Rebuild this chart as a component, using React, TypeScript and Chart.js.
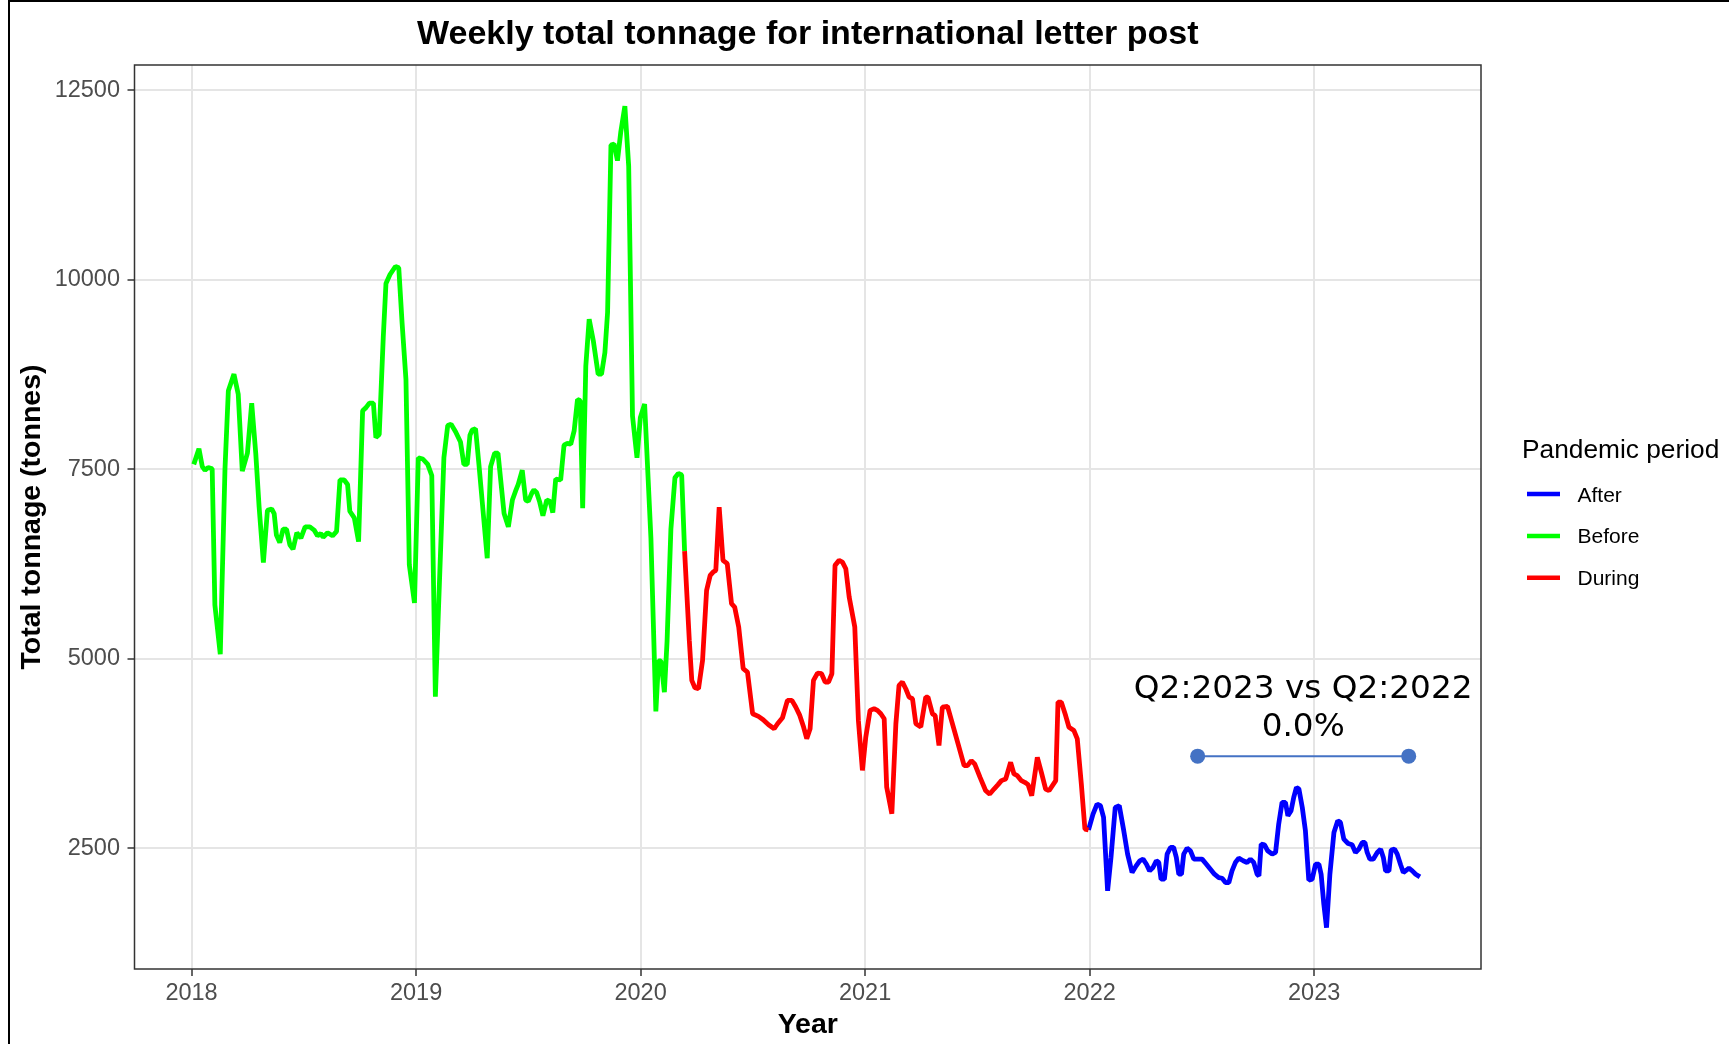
import React, { useEffect, useRef } from 'react';
import { Chart, registerables } from 'chart.js';

Chart.register(...registerables);

// ---- data (decimal year, tonnes) ----
const beforeYear = [
  2018.010, 2018.033, 2018.048, 2018.060, 2018.074, 2018.092, 2018.104, 2018.128, 2018.149, 2018.164,
  2018.189, 2018.208, 2018.226, 2018.249, 2018.268, 2018.286, 2018.301, 2018.320, 2018.338, 2018.357,
  2018.368, 2018.378, 2018.393, 2018.408, 2018.423, 2018.438, 2018.452, 2018.469, 2018.487, 2018.506,
  2018.527, 2018.546, 2018.561, 2018.576, 2018.586, 2018.606, 2018.628, 2018.646, 2018.661, 2018.680,
  2018.695, 2018.705, 2018.725, 2018.744, 2018.762, 2018.777, 2018.792, 2018.810, 2018.821, 2018.836,
  2018.854, 2018.866, 2018.884, 2018.908, 2018.923, 2018.938, 2018.955, 2018.970, 2018.993, 2019.010,
  2019.030, 2019.052, 2019.070, 2019.086, 2019.124, 2019.141, 2019.156, 2019.176, 2019.198, 2019.213,
  2019.228, 2019.240, 2019.250, 2019.265, 2019.280, 2019.295, 2019.317, 2019.332, 2019.350, 2019.365,
  2019.377, 2019.392, 2019.411, 2019.429, 2019.443, 2019.455, 2019.473, 2019.488, 2019.500, 2019.515,
  2019.525, 2019.537, 2019.551, 2019.565, 2019.582, 2019.597, 2019.609, 2019.622, 2019.644, 2019.659,
  2019.674, 2019.689, 2019.704, 2019.719, 2019.731, 2019.742, 2019.756, 2019.771, 2019.790, 2019.811,
  2019.826, 2019.841, 2019.853, 2019.868, 2019.882, 2019.897, 2019.912, 2019.930, 2019.947, 2019.964,
  2019.984, 2019.999, 2020.018, 2020.046, 2020.068, 2020.080, 2020.091, 2020.106, 2020.118, 2020.135,
  2020.153, 2020.168, 2020.183, 2020.196,
];
const beforeTonnes = [
  7565, 7771, 7535, 7488, 7524, 7506, 5708, 5059, 7506, 8538,
  8756, 8491, 7477, 7713, 8373, 7713, 7005, 6268, 6958, 6976,
  6916, 6633, 6533, 6710, 6710, 6504, 6445, 6663, 6592, 6740,
  6740, 6698, 6622, 6651, 6604, 6663, 6622, 6681, 7359, 7359,
  7300, 6946, 6858, 6545, 8273, 8314, 8373, 8373, 7919, 7960,
  9245, 9953, 10071, 10177, 10159, 9422, 8685, 6238, 5737, 7653,
  7636, 7565, 7418, 4499, 7653, 8078, 8096, 7995, 7860, 7565,
  7565, 7949, 8019, 8037, 7565, 7064, 6327, 7535, 7713, 7713,
  7359, 6916, 6740, 7094, 7211, 7300, 7488, 7094, 7076, 7182,
  7229, 7194, 7064, 6887, 7094, 7076, 6928, 7371, 7359, 7819,
  7843, 7831, 8007, 8420, 8408, 6987, 8862, 9481, 9186, 8756,
  8756, 9039, 9570, 11781, 11793, 11574, 11958, 12294, 11500, 8202,
  7653, 8184, 8361, 6592, 4305, 4971, 4971, 4558, 5236, 6710,
  7388, 7447, 7425, 6420,
];

const duringYear = [
  2020.196, 2020.217, 2020.228, 2020.242, 2020.258, 2020.276, 2020.294, 2020.310, 2020.323, 2020.335,
  2020.350, 2020.367, 2020.386, 2020.405, 2020.419, 2020.437, 2020.457, 2020.476, 2020.499, 2020.525,
  2020.546, 2020.570, 2020.595, 2020.610, 2020.632, 2020.654, 2020.674, 2020.691, 2020.709, 2020.726,
  2020.740, 2020.755, 2020.770, 2020.788, 2020.806, 2020.822, 2020.837, 2020.852, 2020.866, 2020.884,
  2020.899, 2020.914, 2020.929, 2020.954, 2020.970, 2020.988, 2021.003, 2021.022, 2021.040, 2021.055,
  2021.070, 2021.085, 2021.096, 2021.119, 2021.137, 2021.151, 2021.166, 2021.181, 2021.196, 2021.211,
  2021.226, 2021.248, 2021.270, 2021.280, 2021.300, 2021.312, 2021.329, 2021.344, 2021.367, 2021.389,
  2021.414, 2021.441, 2021.456, 2021.473, 2021.488, 2021.512, 2021.537, 2021.555, 2021.574, 2021.592,
  2021.607, 2021.626, 2021.637, 2021.648, 2021.663, 2021.678, 2021.696, 2021.711, 2021.726, 2021.742,
  2021.767, 2021.785, 2021.804, 2021.819, 2021.849, 2021.859, 2021.874, 2021.893, 2021.908, 2021.930,
  2021.945, 2021.963, 2021.979, 2021.995,
];
const duringTonnes = [
  6420, 5242, 4714, 4617, 4604, 4978, 5902, 6100, 6144, 6166,
  7000, 6298, 6254, 5726, 5682, 5418, 4868, 4824, 4274, 4239,
  4195, 4129, 4076, 4142, 4221, 4450, 4450, 4362, 4252, 4098,
  3944, 4076, 4714, 4811, 4802, 4692, 4692, 4802, 6232, 6298,
  6276, 6188, 5814, 5418, 4186, 3526, 3966, 4318, 4340, 4318,
  4274, 4208, 3306, 2954, 4142, 4648, 4692, 4604, 4494, 4472,
  4142, 4100, 4493, 4493, 4272, 4250, 3854, 4361, 4370, 4140,
  3876, 3589, 3589, 3655, 3611, 3435, 3258, 3214, 3280, 3338,
  3391, 3413, 3523, 3633, 3479, 3457, 3391, 3369, 3338, 3192,
  3699, 3501, 3280, 3258, 3391, 4427, 4427, 4250, 4096, 4052,
  3942, 3347, 2751, 2740,
];

const afterYear = [
  2021.995, 2022.015, 2022.033, 2022.048, 2022.062, 2022.080, 2022.095, 2022.114, 2022.132, 2022.152,
  2022.169, 2022.189, 2022.207, 2022.223, 2022.238, 2022.253, 2022.267, 2022.282, 2022.297, 2022.308,
  2022.318, 2022.333, 2022.345, 2022.360, 2022.374, 2022.386, 2022.397, 2022.409, 2022.419, 2022.434,
  2022.449, 2022.464, 2022.483, 2022.501, 2022.520, 2022.538, 2022.556, 2022.575, 2022.590, 2022.605,
  2022.620, 2022.634, 2022.649, 2022.664, 2022.684, 2022.701, 2022.716, 2022.731, 2022.746, 2022.754,
  2022.764, 2022.779, 2022.793, 2022.813, 2022.828, 2022.842, 2022.857, 2022.872, 2022.883, 2022.897,
  2022.909, 2022.921, 2022.932, 2022.947, 2022.961, 2022.976, 2022.991, 2023.006, 2023.021, 2023.031,
  2023.043, 2023.055, 2023.070, 2023.088, 2023.105, 2023.117, 2023.132, 2023.151, 2023.169, 2023.184,
  2023.199, 2023.214, 2023.226, 2023.236, 2023.248, 2023.263, 2023.281, 2023.296, 2023.308, 2023.318,
  2023.333, 2023.343, 2023.358, 2023.370, 2023.385, 2023.397, 2023.407, 2023.422, 2023.437, 2023.452,
  2023.471,
];
const afterTonnes = [
  2740, 2950, 3082, 3060, 2906, 1936, 2377, 3038, 3060, 2729,
  2421, 2178, 2266, 2333, 2355, 2288, 2200, 2244, 2333, 2310,
  2090, 2090, 2421, 2509, 2509, 2377, 2156, 2156, 2421, 2500,
  2465, 2355, 2355, 2355, 2288, 2222, 2156, 2112, 2103, 2046,
  2046, 2200, 2310, 2368, 2333, 2310, 2355, 2310, 2156, 2134,
  2553, 2544, 2465, 2421, 2443, 2818, 3104, 3104, 2928, 2994,
  3170, 3302, 3280, 3038, 2729, 2077, 2090, 2288, 2288, 2156,
  1760, 1451, 2156, 2707, 2862, 2840, 2619, 2562, 2544, 2443,
  2487, 2575, 2575, 2443, 2355, 2355, 2443, 2487, 2377, 2200,
  2200, 2474, 2487, 2421, 2280, 2178, 2200, 2235, 2200, 2156,
  2121,
];

const yearTicks = [2018, 2019, 2020, 2021, 2022, 2023];
const tonnageTicks = [2500, 5000, 7500, 10000, 12500];

const legendNames = ['After', 'Before', 'During'];
const legendColors = ['#0000FF', '#00FF00', '#FF0000'];

const comparisonYears = [2022.481, 2023.421];
const comparisonTonnes = [3714, 3714];
const comparisonLines = ['Q2:2023 vs Q2:2022', '0.0%'];

const chartTitle = 'Weekly total tonnage for international letter post';
const xTitle = 'Year';
const yTitle = 'Total tonnage (tonnes)';
const legendTitle = 'Pandemic period';

const X_MIN = 2017.746;
const X_MAX = 2023.743;
const Y_MIN = 905;
const Y_MAX = 12836;

const SANS = '"Liberation Sans", Arial, Helvetica, sans-serif';
const LINE_W = 4.8;

const pts = (xs: number[], ys: number[]) => xs.map((x, i) => ({ x, y: ys[i] }));

const decorPlugin = {
  id: 'decor',
  beforeDraw(chart: any) {
    const { ctx, width, height } = chart;
    ctx.save();
    ctx.fillStyle = '#FFFFFF';
    ctx.fillRect(0, 0, width, height);
    ctx.restore();
  },
  afterDraw(chart: any) {
    const { ctx, chartArea: a, scales } = chart;
    const cx = (a.left + a.right) / 2;
    ctx.save();

    // panel border
    ctx.strokeStyle = '#333333';
    ctx.lineWidth = 1.5;
    ctx.strokeRect(a.left, a.top, a.right - a.left, a.bottom - a.top);

    // title
    ctx.fillStyle = '#000000';
    ctx.textAlign = 'center';
    ctx.textBaseline = 'alphabetic';
    ctx.font = `bold 34px ${SANS}`;
    ctx.fillText(chartTitle, cx, 44);

    // axis titles
    ctx.font = `bold 28.5px ${SANS}`;
    ctx.fillText(xTitle, cx, 1033);
    ctx.save();
    ctx.translate(40, (a.top + a.bottom) / 2);
    ctx.rotate(-Math.PI / 2);
    ctx.fillText(yTitle, 0, 0);
    ctx.restore();

    // legend
    ctx.textAlign = 'left';
    ctx.font = `26.3px ${SANS}`;
    ctx.fillText(legendTitle, 1522, 458);
    ctx.font = `21px ${SANS}`;
    legendNames.forEach((name, i) => {
      const yc = 494 + i * 41.9;
      ctx.strokeStyle = legendColors[i];
      ctx.lineWidth = 4.5;
      ctx.beginPath();
      ctx.moveTo(1527, yc);
      ctx.lineTo(1560, yc);
      ctx.stroke();
      ctx.fillStyle = '#000000';
      ctx.fillText(name, 1577.5, yc + 7.5);
    });

    // comparison annotation text
    const xs = scales.x;
    const ys = scales.y;
    const ax = (xs.getPixelForValue(comparisonYears[0]) + xs.getPixelForValue(comparisonYears[1])) / 2;
    const ay = ys.getPixelForValue(comparisonTonnes[0]);
    ctx.textAlign = 'center';
    ctx.fillStyle = '#000000';
    ctx.font = '32.7px "DejaVu Sans", Verdana, sans-serif';
    ctx.fillText(comparisonLines[0], ax, ay - 57.7);
    ctx.fillText(comparisonLines[1], ax, ay - 20);

    // outer image border (left and top)
    ctx.strokeStyle = '#000000';
    ctx.lineWidth = 2;
    ctx.beginPath();
    ctx.moveTo(9, 1044);
    ctx.lineTo(9, 1);
    ctx.lineTo(1729, 1);
    ctx.stroke();

    ctx.restore();
  },
};

export default function App() {
  const canvasRef = useRef<HTMLCanvasElement | null>(null);

  useEffect(() => {
    const canvas = canvasRef.current;
    if (!canvas) return;
    const chart = new Chart(canvas, {
      type: 'line',
      data: {
        datasets: [
          {
            label: 'comparison',
            data: pts(comparisonYears, comparisonTonnes),
            borderColor: '#4472C4',
            backgroundColor: '#4472C4',
            borderWidth: 2,
            pointRadius: 7.5,
            pointBorderWidth: 0,
            pointBackgroundColor: '#4472C4',
            order: -1,
          },
          {
            label: 'During',
            data: pts(duringYear, duringTonnes),
            borderColor: '#FF0000',
            borderWidth: LINE_W,
            pointRadius: 0,
            tension: 0,
            order: 0,
          },
          {
            label: 'Before',
            data: pts(beforeYear, beforeTonnes),
            borderColor: '#00FF00',
            borderWidth: LINE_W,
            pointRadius: 0,
            tension: 0,
            order: 1,
          },
          {
            label: 'After',
            data: pts(afterYear, afterTonnes),
            borderColor: '#0000FF',
            borderWidth: LINE_W,
            pointRadius: 0,
            tension: 0,
            order: 2,
          },
        ],
      },
      options: {
        responsive: false,
        animation: false,
        devicePixelRatio: 1,
        layout: { padding: { top: 65, right: 248, bottom: 0, left: 0 } },
        elements: { line: { borderJoinStyle: 'bevel', borderCapStyle: 'butt' } },
        plugins: {
          legend: { display: false },
          title: { display: false },
          tooltip: { enabled: false },
        },
        scales: {
          x: {
            type: 'linear',
            min: X_MIN,
            max: X_MAX,
            afterBuildTicks: (s: any) => {
              s.ticks = yearTicks.map((v) => ({ value: v }));
            },
            afterFit: (s: any) => {
              s.height = 75;
            },
            ticks: {
              callback: (v: any) => String(v),
              font: { family: SANS, size: 23.5 },
              color: '#4D4D4D',
              padding: 3,
              maxRotation: 0,
              autoSkip: false,
            },
            grid: {
              color: '#E5E5E5',
              lineWidth: 2,
              drawTicks: true,
              tickLength: 7,
              tickColor: '#333333',
              tickWidth: 1.5,
            },
            border: { display: false },
          },
          y: {
            type: 'linear',
            min: Y_MIN,
            max: Y_MAX,
            afterBuildTicks: (s: any) => {
              s.ticks = tonnageTicks.map((v) => ({ value: v }));
            },
            afterFit: (s: any) => {
              s.width = 134.5;
            },
            ticks: {
              callback: (v: any) => String(v),
              font: { family: SANS, size: 23.5 },
              color: '#4D4D4D',
              padding: 7.5,
              autoSkip: false,
            },
            grid: {
              color: '#E5E5E5',
              lineWidth: 2,
              drawTicks: true,
              tickLength: 7,
              tickColor: '#333333',
              tickWidth: 1.5,
            },
            border: { display: false },
          },
        },
      },
      plugins: [decorPlugin],
    } as any);
    return () => chart.destroy();
  }, []);

  return (
    <div style={{ position: 'absolute', left: 0, top: 0, width: 1729, height: 1044, overflow: 'hidden' }}>
      <canvas ref={canvasRef} width={1729} height={1044} style={{ display: 'block', width: 1729, height: 1044 }} />
    </div>
  );
}
